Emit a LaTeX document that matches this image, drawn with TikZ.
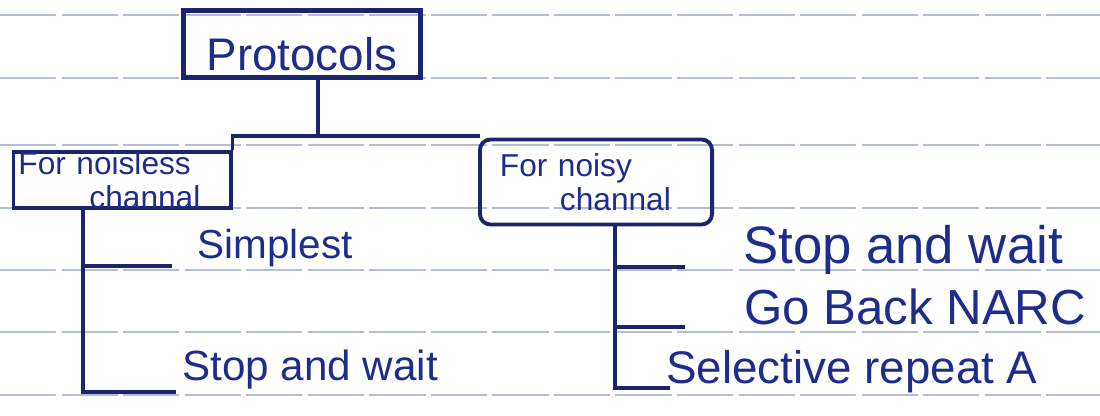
\documentclass[tikz,border=0pt]{standalone}
\usepackage{fontspec}
\setmainfont{Liberation Sans}
\usepackage{xcolor}
\definecolor{ink}{RGB}{28,36,112}
\definecolor{inktext}{RGB}{30,44,140}
\definecolor{ruleblue}{RGB}{90,108,165}

\begin{document}
\begin{tikzpicture}[x=0.01cm,y=-0.01cm,color=ink,line width=1.1pt,
      ruled line/.style={draw=ruleblue,line width=0.7pt,opacity=0.45,
          dash pattern=on 16pt off 1.5pt},
      main box/.style={draw=ink,text=inktext,line width=1.2pt,
          font=\fontsize{13}{15}\selectfont,minimum width=2.37cm,
          minimum height=0.67cm,inner sep=0pt,text height=0.6cm,text depth=0.07cm},
      side box/.style={draw=ink,text=inktext,font=\fontsize{9}{9.5}\selectfont,
          align=left,inner ysep=0pt},
      leaf node/.style={text=inktext,anchor=base,inner sep=0pt}]

    \useasboundingbox (0,0) rectangle (1100,415);

    % lined paper
    \foreach \y in {15,78,145,208,270,332,395}
      \draw[ruled line] (0,\y) -- (1100,\y);

    \node[main box] (proto) at (302,44) {Protocols};
    \node[side box,text width=2.07cm,inner xsep=0.05cm,minimum height=0.56cm]
      (lbox) at (122,180) {For noisless\\\hspace*{0.71cm}channal};
    \node[side box,text width=1.92cm,inner xsep=0.2cm,minimum height=0.85cm,
      rounded corners=3pt] (rbox) at (596,182) {For noisy\\\hspace*{0.6cm}channal};

    % leaves
    \node[leaf node,font=\fontsize{11.5}{13}\selectfont] (simplest) at (275,258) {Simplest};
    \node[leaf node,font=\fontsize{12}{14}\selectfont] (lstop) at (310,380) {Stop and wait};
    \node[leaf node,font=\fontsize{15}{17}\selectfont] (rstop) at (903,263) {Stop and wait};
    \node[leaf node,font=\fontsize{14}{16}\selectfont] (goback) at (915,324) {Go Back NARC};
    \node[leaf node,font=\fontsize{13}{15}\selectfont] (selrep) at (852,383) {Selective repeat A};

    % tree lines
    \coordinate (split) at (318,136);
    \coordinate (lstem) at (83,0);
    \coordinate (rstem) at (615,0);
    \coordinate (lb1) at (172,266);
    \coordinate (lb2) at (176,392);
    \coordinate (rb1) at (685,267);
    \coordinate (rb2) at (685,327);
    \coordinate (rb3) at (670,388);

    \draw (proto.south -| split) -- (split);
    \draw (lbox.north east) -- (lbox.east |- split) -- (split -| rbox.west)
      -- (rbox.north west);
    \draw (lbox.south -| lstem) |- (lb2);
    \draw (lstem |- lb1) -- (lb1);
    \draw (rbox.south -| rstem) |- (rb3);
    \draw (rstem |- rb1) -- (rb1);
    \draw (rstem |- rb2) -- (rb2);

\end{tikzpicture}
\end{document}
